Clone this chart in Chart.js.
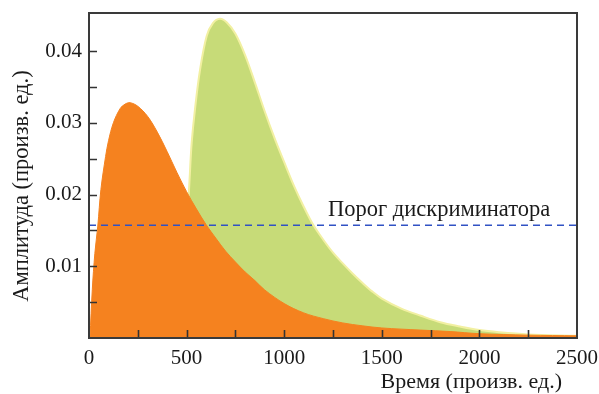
<!DOCTYPE html>
<html>
<head>
<meta charset="utf-8">
<title>Амплитуда импульсов</title>
<script src="https://cdn.jsdelivr.net/npm/chart.js@4/dist/chart.umd.min.js"></script>
<style>
  html, body { margin: 0; padding: 0; background: #fff; }
  #wrap { width: 599px; height: 394px; position: relative; }
</style>
</head>
<body>
<div id="wrap"><canvas id="chart"></canvas></div>
<script>
/* ── Data ──────────────────────────────────────────────────────────────── */

// orange pulse: time, amplitude
var orangeT = [5, 17, 30, 45, 61, 85, 100, 125, 160, 185, 210, 250, 300, 350, 400, 450, 500, 550, 600, 650, 700, 750, 800, 850, 900, 1000, 1100, 1200, 1300, 1400, 1500, 1700, 1850, 2000, 2250, 2500];
var orangeA = [0, 0.0068, 0.0118, 0.0156, 0.0207, 0.0253, 0.0275, 0.0300, 0.0320, 0.0326, 0.0328, 0.0323, 0.0309, 0.0287, 0.0260, 0.0231, 0.0204, 0.0180, 0.0158, 0.0139, 0.0121, 0.0106, 0.0092, 0.0080, 0.0067, 0.0048, 0.0035, 0.0027, 0.0021, 0.0017, 0.0014, 0.0011, 0.0009, 0.0006, 0.0004, 0.0003];

// green pulse: time, amplitude
var greenT = [498, 505, 509, 517, 526, 543, 569, 603, 635, 671, 705, 750, 800, 850, 900, 950, 1000, 1050, 1100, 1150, 1200, 1250, 1300, 1350, 1400, 1450, 1500, 1600, 1700, 1800, 1900, 2000, 2100, 2250, 2500];
var greenA = [0, 0.0100, 0.0184, 0.0230, 0.0272, 0.0319, 0.0374, 0.0421, 0.0439, 0.0445, 0.0440, 0.0424, 0.0394, 0.0356, 0.0316, 0.0279, 0.0245, 0.0212, 0.0183, 0.0157, 0.0137, 0.0119, 0.0104, 0.0090, 0.0077, 0.0065, 0.0055, 0.0041, 0.0031, 0.0022, 0.0016, 0.0011, 0.0008, 0.0005, 0.0003];

// discriminator threshold
var thresholdT = [0, 2500];
var thresholdA = [0.0157, 0.0157];

var xTicks = [0, 500, 1000, 1500, 2000, 2500];
var yTicks = [0.01, 0.02, 0.03, 0.04];

var thresholdLabel = 'Порог дискриминатора';
var xTitle = 'Время (произв. ед.)';
var yTitle = 'Амплитуда (произв. ед.)';

/* ── Helpers ───────────────────────────────────────────────────────────── */

function _pts(ts, as) {
  return ts.map(function (t, i) { return { x: t, y: as[i] }; });
}

var FONT = '"Liberation Serif", "DejaVu Serif", serif';
var INK  = '#1a1a1a';

/* ── Decorations: frame, inward ticks, titles, threshold label ─────────── */

var decor = {
  id: 'decor',
  afterDatasetsDraw: function (chart) {
    var ctx = chart.ctx;
    var a   = chart.chartArea;
    var xs  = chart.scales.x;
    var ys  = chart.scales.y;

    ctx.save();
    // inward tick marks
    ctx.strokeStyle = '#333';
    ctx.lineWidth = 1.6;
    ctx.beginPath();
    for (var t = 250; t < 2500; t += 250) {
      var px = Math.round(xs.getPixelForValue(t)) + 0.5;
      ctx.moveTo(px, a.bottom);
      ctx.lineTo(px, a.bottom - 8);
    }
    for (var v = 0.005; v < 0.045; v += 0.005) {
      var py = Math.round(ys.getPixelForValue(v)) + 0.5;
      ctx.moveTo(a.left, py);
      ctx.lineTo(a.left + 8, py);
    }
    ctx.stroke();

    // frame
    ctx.lineWidth = 2;
    ctx.strokeStyle = '#3a3a3a';
    ctx.strokeRect(a.left, a.top, a.right - a.left, a.bottom - a.top);

    // threshold label
    ctx.fillStyle = INK;
    ctx.font = '22.5px ' + FONT;
    ctx.textAlign = 'left';
    ctx.textBaseline = 'alphabetic';
    ctx.fillText(thresholdLabel, 328, 216);

    // axis titles
    ctx.font = '22px ' + FONT;
    ctx.textAlign = 'right';
    ctx.fillText(xTitle, 562, 388);

    ctx.translate(28, 186);
    ctx.rotate(-Math.PI / 2);
    ctx.textAlign = 'center';
    ctx.font = '22.5px ' + FONT;
    ctx.fillText(yTitle, 0, 0);
    ctx.restore();
  }
};

/* ── Chart ─────────────────────────────────────────────────────────────── */

new Chart(document.getElementById('chart'), {
  type: 'line',
  data: {
    datasets: [
      {
        label: 'threshold',
        data: _pts(thresholdT, thresholdA),
        borderColor: '#3152c4',
        borderWidth: 1.5,
        borderDash: [7, 5],
        pointRadius: 0,
        fill: false,
      },
      {
        label: 'pulse 1',
        data: _pts(orangeT, orangeA),
        borderColor: '#f5821f',
        backgroundColor: '#f5821f',
        borderWidth: 1,
        pointRadius: 0,
        tension: 0.35,
        fill: 'origin',
      },
      {
        label: 'pulse 2',
        data: _pts(greenT, greenA),
        borderColor: '#f2f0a2',
        backgroundColor: '#c7db78',
        borderWidth: 2,
        pointRadius: 0,
        tension: 0.35,
        fill: 'origin',
      },
    ],
  },
  options: {
    responsive: true,
    maintainAspectRatio: false,
    animation: false,
    layout: { padding: { left: 0, top: 13, right: 22, bottom: 0 } },
    plugins: {
      legend: { display: false },
      tooltip: { enabled: false },
    },
    scales: {
      x: {
        type: 'linear',
        min: 0,
        max: 2500,
        grid: { display: false, drawTicks: false },
        border: { display: false },
        afterBuildTicks: function (s) {
          s.ticks = xTicks.map(function (v) { return { value: v }; });
        },
        afterFit: function (s) {
          s.height = 56;
          s.paddingLeft = 0;
          s.paddingRight = 0;
        },
        ticks: {
          color: INK,
          padding: 8,
          maxRotation: 0,
          autoSkip: false,
          font: { family: FONT, size: 21 },
          callback: function (v) { return String(v); },
        },
      },
      y: {
        min: 0,
        max: 0.0453,
        grid: { display: false, drawTicks: false },
        border: { display: false },
        afterBuildTicks: function (s) {
          s.ticks = yTicks.map(function (v) { return { value: v }; });
        },
        afterFit: function (s) {
          s.width = 89;
          s.paddingTop = 0;
          s.paddingBottom = 0;
        },
        ticks: {
          color: INK,
          padding: 7,
          autoSkip: false,
          font: { family: FONT, size: 21 },
          callback: function (v) { return v.toFixed(2); },
        },
      },
    },
  },
  plugins: [decor],
});
</script>
</body>
</html>
